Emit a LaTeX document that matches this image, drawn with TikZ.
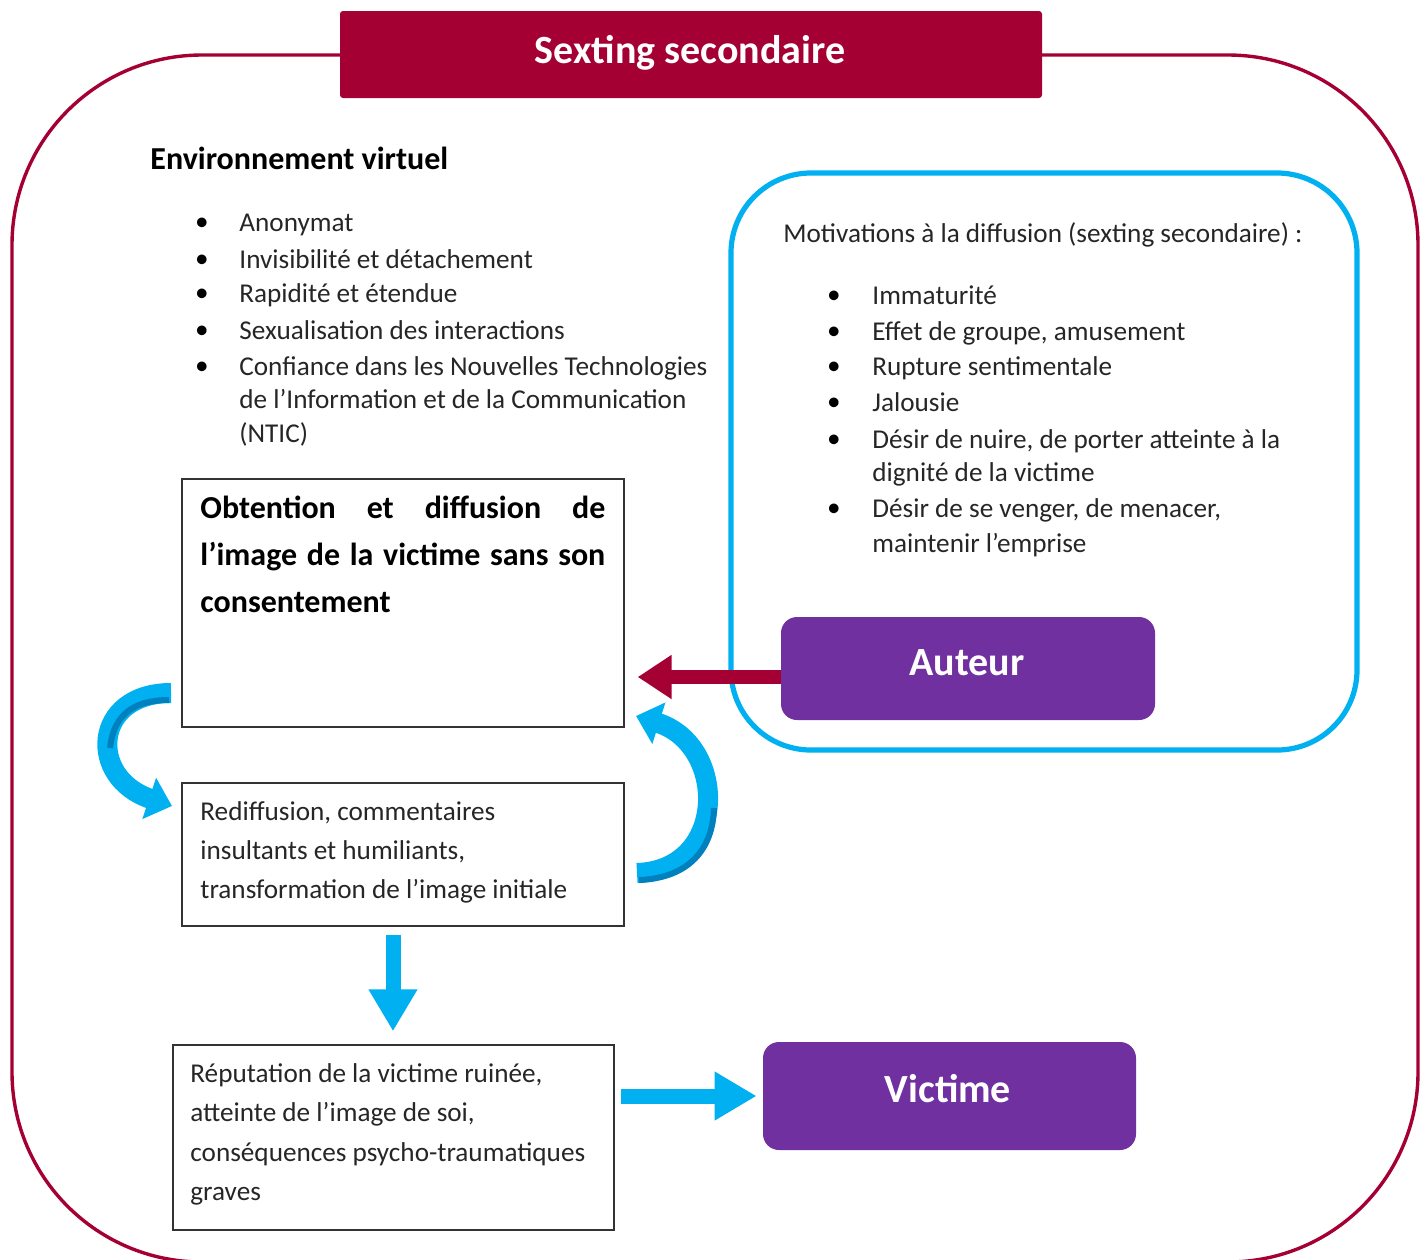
\documentclass[tikz,border=0pt]{standalone}
\usepackage{fontspec}
\setmainfont{Carlito}
\usetikzlibrary{arrows.meta}
\definecolor{crim}{RGB}{165,0,52}
\definecolor{sky}{RGB}{0,176,240}
\definecolor{skyd}{RGB}{0,128,188}
\definecolor{purp}{RGB}{112,48,160}
\begin{document}
\begin{tikzpicture}[x=0.5pt,y=-0.5pt,
  body/.style={anchor=mid west, inner sep=0pt, yshift=-2.5pt, font=\fontsize{13.6}{16}\selectfont, text=black!85},
  bul/.style={inner sep=0pt, yshift=-1pt, font=\fontsize{13.6}{16}\selectfont},
  head/.style={anchor=mid west, inner sep=0pt, yshift=-3.5pt, font=\fontsize{16}{19}\selectfont\bfseries},
  boxline/.style={anchor=mid west, inner sep=0pt, yshift=-3pt, font=\fontsize{16}{19}\selectfont\bfseries},
  frame/.style={draw=black!80, line width=0.7pt, inner sep=0pt},
  actor/.style={fill=purp, rounded corners=8pt, inner sep=0pt},
  actortext/.style={inner sep=0pt, text=white, font=\fontsize{20}{24}\selectfont\bfseries},
  redarrow/.style={draw=crim, line width=7pt, -{Triangle[length=17pt,width=21pt]}},
  bluearrow/.style={draw=sky, line width=7.5pt, -{Triangle[length=21pt,width=23pt]}},
  curvearrow/.style={draw=sky, line width=10pt, -{Triangle[length=12pt,width=21pt]}},
  shade/.style={draw=skyd, line width=3pt}
]
\useasboundingbox (0,0) rectangle (1425,1259);
% outer frame
\draw[crim, line width=1.7pt, rounded corners=95pt] (12,55) rectangle (1418,1262);
% title
\node[fill=crim, rounded corners=1.5pt, minimum width=351pt, minimum height=43.5pt, inner sep=0pt] (title) at (691,54.5) {};
\node[actortext, yshift=-1.5pt] (titletext) at (690,50) {Sexting secondaire};

% environment
\node[head] (env) at (150,158) {Environnement virtuel};
\foreach \y/\t [count=\i] in {222/Anonymat, 259/Invisibilité et détachement, 293/Rapidité et étendue, 330/Sexualisation des interactions, 366/Confiance dans les Nouvelles Technologies} {
  \node[bul] (eb\i) at (202,\y) {\textbullet};
  \node[body] (et\i) at (239,\y) {\t};
}
\node[body] (et6) at (239,399) {de l’Information et de la Communication};
\node[body] (et7) at (239,433) {(NTIC)};

% motivations
\draw[sky, line width=2.6pt, rounded corners=40pt] (731,173) rectangle (1357,750);
\node[body] (mot) at (783,233) {Motivations à la diffusion (sexting secondaire) :};
\foreach \y/\t [count=\i] in {295/Immaturité, 331/{Effet de groupe, amusement}, 366/Rupture sentimentale, 402/Jalousie, 439/{Désir de nuire, de porter atteinte à la}, 508/{Désir de se venger, de menacer,}} {
  \node[bul] (mb\i) at (834,\y) {\textbullet};
  \node[body] (mt\i) at (872,\y) {\t};
}
\node[body] (mt7) at (872,472) {dignité de la victime};
\node[body] (mt8) at (872,543) {maintenir l’emprise};

% actors
\node[actor, minimum width=187pt, minimum height=51.5pt] (auteur) at (968,668.5) {};
\node[actortext] (auteurtext) at (967,663) {Auteur};
\node[actor, minimum width=186.5pt, minimum height=54pt] (victime) at (949.5,1096) {};
\node[actortext] (victimetext) at (948,1089) {Victime};

% boxes
\node[frame, minimum width=221pt, minimum height=124pt] (obt) at (403,603) {};
\node[boxline] (o1) at (200,508) {\makebox[202.5pt][s]{Obtention et diffusion de}};
\node[boxline] (o2) at (200,555) {\makebox[202.5pt][s]{l’image de la victime sans son}};
\node[boxline] (o3) at (200,602) {consentement};

\node[frame, minimum width=221pt, minimum height=71.5pt] (red) at (403,854.5) {};
\node[body] (r1) at (200,811) {Rediffusion, commentaires};
\node[body] (r2) at (200,850) {insultants et humiliants,};
\node[body] (r3) at (200,889) {transformation de l’image initiale};

\node[frame, minimum width=220.5pt, minimum height=92.5pt] (rep) at (393.5,1137.5) {};
\node[body] (p1) at (190,1073) {Réputation de la victime ruinée,};
\node[body] (p2) at (190,1112) {atteinte de l’image de soi,};
\node[body] (p3) at (190,1152) {conséquences psycho-traumatiques};
\node[body] (p4) at (190,1191) {graves};

% straight arrows
\draw[redarrow, shorten >=6.5pt] (auteur.west |- 0,677) -- (obt.east |- 0,677);
\draw[bluearrow, shorten <=4pt, shorten >=6.5pt] ([xshift=-5pt]red.south) -- ([xshift=-5pt]red.south |- rep.north);
\draw[bluearrow, shorten <=3pt, shorten >=3pt] (rep.east |- victime.west) -- (victime.west);

% curved arrows
\coordinate (la) at (171,693);
\coordinate (lb) at (172,806);
\draw[curvearrow] (la) .. controls (92,693) and (88,778) .. (lb);
\draw[shade] (169,700) .. controls (128,700) and (113,720) .. (110,748);
\coordinate (ra) at (637,873);
\coordinate (rb) at (636,716);
\draw[curvearrow] (ra) .. controls (728,870) and (728,745) .. (rb);
\draw[shade] (639,880) .. controls (690,878) and (713,848) .. (714,808);
\end{tikzpicture}
\end{document}
